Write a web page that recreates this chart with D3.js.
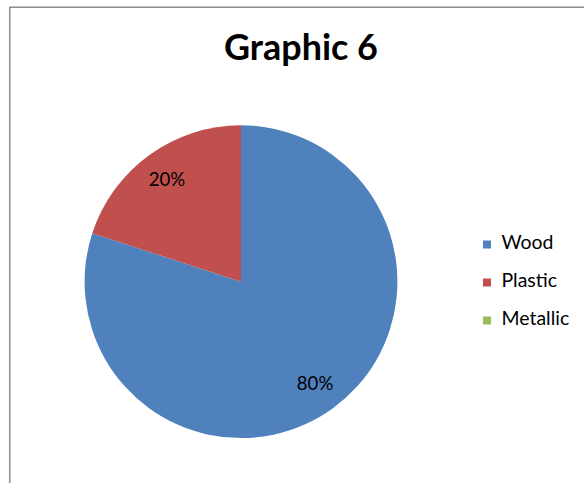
<!DOCTYPE html>
<html><head><meta charset="utf-8">
<script src="https://cdn.jsdelivr.net/npm/d3@7"></script>
<style>body{margin:0;background:#fff}svg{display:block}</style>
</head><body>
<script>
const title = "Graphic 6";
const categories = ["Wood", "Plastic", "Metallic"];
const values = [80, 20, 0];
const labels = ["80%", "20%", ""];
const colors = ["#4F81BD", "#C0504D", "#9BBB59"];

const W = 584, H = 483;
const svg = d3.select("body").append("svg").attr("width", W).attr("height", H);
const font = "Lato, 'Open Sans', sans-serif";

function fit(sel, target) {
  sel.attr("font-size", 100);
  const w = sel.node().getComputedTextLength();
  sel.attr("font-size", 100 * target / w);
}

// border
svg.append("rect").attr("x", 9.75).attr("y", 7.25).attr("width", 600).attr("height", 600)
  .attr("fill", "none").attr("stroke", "#8c8c8c").attr("stroke-width", 1.5);

// title
const t = svg.append("text").attr("x", 301).attr("y", 59.5).attr("text-anchor", "middle")
  .attr("font-family", font).attr("font-weight", "bold").attr("fill", "#000").text(title);
fit(t, 154);

// pie
const cx = 241, cy = 281.7, R = 156.4;
const pie = d3.pie().sort(null).value(d => d)(values);
const arc = d3.arc().innerRadius(0).outerRadius(R);
const g = svg.append("g").attr("transform", `translate(${cx},${cy})`);
g.selectAll("path").data(pie).join("path")
  .attr("d", arc).attr("fill", (d, i) => colors[i]);

const labelArc = d3.arc().innerRadius(126).outerRadius(126);
g.selectAll("text").data(pie.filter(d => d.value > 0)).join("text")
  .each(function(d) {
    const [x, y] = labelArc.centroid(d);
    const s = d3.select(this).attr("x", x).attr("y", y + 6.5)
      .attr("text-anchor", "middle").attr("font-family", font).attr("fill", "#000")
      .text(labels[d.index]);
    fit(s, 36.5);
  });

// legend
const lg = svg.append("g");
const ly = d3.scalePoint().domain(categories).range([244.5, 320.5]);
categories.forEach((c, i) => {
  lg.append("rect").attr("x", 483).attr("y", ly(c) - 4).attr("width", 8).attr("height", 8)
    .attr("fill", colors[i]);
  const tx = lg.append("text").attr("x", 501.5).attr("y", ly(c) + 4).attr("font-family", font)
    .attr("fill", "#000").text(c);
  if (i === 0) fit(tx, 52);
});
const fs = lg.select("text").attr("font-size");
lg.selectAll("text").attr("font-size", fs);
</script>
</body></html>
